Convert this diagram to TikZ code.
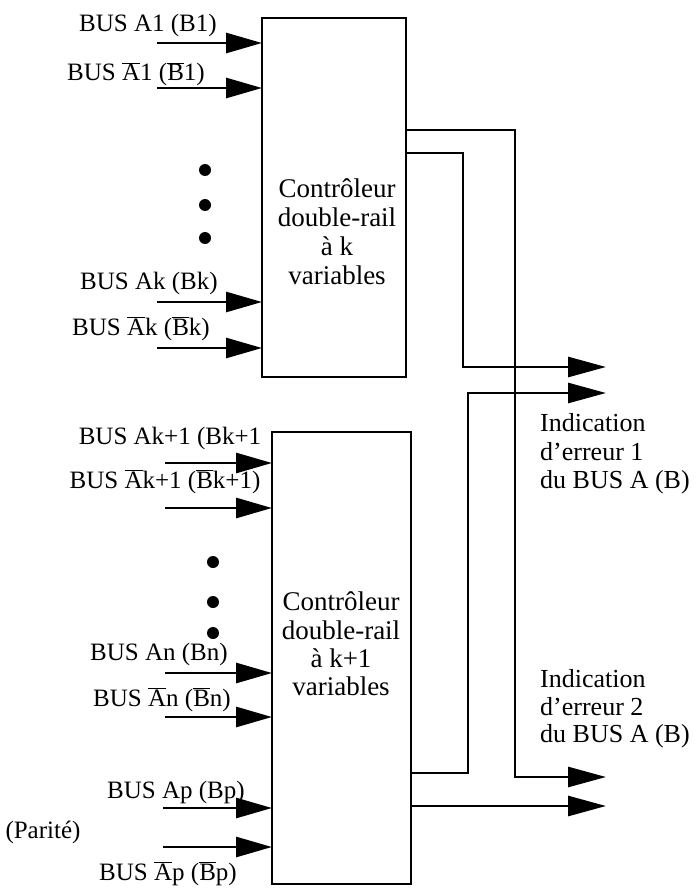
\documentclass[tikz,border=0pt]{standalone}
\usepackage{fontspec}
\setmainfont{Liberation Serif}
\usetikzlibrary{arrows.meta}
\newcommand{\ob}[1]{$\overline{\mbox{#1}}$}
\begin{document}
\begin{tikzpicture}[x=1pt,y=-1pt,
  box/.style={draw,line width=2.8pt,inner sep=0pt,outer sep=0pt,rectangle},
  inarr/.style={line width=2.8pt,-{Triangle[length=36pt,width=20pt]}},
  outarr/.style={line width=2.8pt,-{Triangle[length=38pt,width=20pt]}},
  lab/.style={anchor=base,inner sep=0pt,font=\fontsize{25}{29}\selectfont},
  boxlab/.style={anchor=base,inner sep=0pt,font=\fontsize{27}{29}\selectfont},
  labw/.style={anchor=base west,inner sep=0pt,font=\fontsize{26}{29}\selectfont},
  dot/.style={circle,fill=black,inner sep=0pt,minimum size=12pt}]
\useasboundingbox (0,0) rectangle (696,888);
% boxes
\node[box,minimum width=144pt,minimum height=359pt] (b1) at (334,197.5) {};
\node[box,minimum width=139pt,minimum height=452pt] (b2) at (341.5,658) {};
% box texts
\node[boxlab] (t1a) at (337,197) {Contrôleur};
\node[boxlab] (t1b) at (337,226) {double-rail};
\node[boxlab] (t1c) at (337,255) {à k};
\node[boxlab] (t1d) at (337,284) {variables};
\node[boxlab] (t2a) at (341,610) {Contrôleur};
\node[boxlab] (t2b) at (341,639) {double-rail};
\node[boxlab] (t2c) at (341,667) {à k+1};
\node[boxlab] (t2d) at (341,695) {variables};
% input free ends
\coordinate (i1) at (157,43);
\coordinate (i2) at (157,88);
\coordinate (i3) at (157,302);
\coordinate (i4) at (157,348);
\coordinate (j1) at (165,463);
\coordinate (j2) at (165,508);
\coordinate (j3) at (165,673);
\coordinate (j4) at (165,717);
\coordinate (j5) at (163,808);
\coordinate (j6) at (163,847);
\foreach \c in {i1,i2,i3,i4} \draw[inarr] (\c) -- (\c -| b1.west);
\foreach \c in {j1,j2,j3,j4,j5,j6} \draw[inarr] (\c) -- (\c -| b2.west);
% dots
\node[dot] (d1) at (205,170) {};
\node[dot] (d2) at (205,205) {};
\node[dot] (d3) at (205,238) {};
\node[dot] (d4) at (213,562) {};
\node[dot] (d5) at (213,602) {};
\node[dot] (d6) at (213,633) {};
% input labels
\node[lab] (l1) at (148,32) {BUS A1 (B1)};
\node[lab] (l2) at (136,81) {BUS \ob{A}1 (\ob{B}1)};
\node[lab] (l3) at (149,289) {BUS Ak (Bk)};
\node[lab] (l4) at (141,335) {BUS \ob{A}k (\ob{B}k)};
\node[lab] (l5) at (170,444) {BUS Ak+1 (Bk+1};
\node[lab] (l6) at (165,488) {BUS \ob{A}k+1 (\ob{B}k+1)};
\node[lab] (l7) at (159,660) {BUS An (Bn)};
\node[lab] (l8) at (162,706) {BUS \ob{A}n (\ob{B}n)};
\node[lab] (l9) at (176,798) {BUS Ap (Bp)};
\node[lab] (l10) at (43,838) {(Parité)};
\node[lab] (l11) at (168,880) {BUS \ob{A}p (\ob{B}p)};
% outputs
\coordinate (o1) at (606,367);
\coordinate (o2) at (606,393);
\coordinate (o3) at (606,777);
\coordinate (o4) at (606,806);
\coordinate (k1) at (515,130);
\coordinate (k2) at (463,153);
\coordinate (k3) at (468,773);
\draw[outarr] (b1.east |- k1) -- (k1) -- (k1 |- o3) -- (o3);
\draw[outarr] (b1.east |- k2) -- (k2) -- (k2 |- o1) -- (o1);
\draw[outarr] (b2.east |- k3) -- (k3) -- (k3 |- o2) -- (o2);
\draw[outarr] (b2.east |- o4) -- (o4);
% right labels
\node[labw] (r1) at (540,431) {Indication};
\node[labw] (r2) at (540,460) {d'erreur 1};
\node[labw] (r3) at (540,488) {du BUS A (B)};
\node[labw] (r4) at (540,687) {Indication};
\node[labw] (r5) at (540,715) {d'erreur 2};
\node[labw] (r6) at (540,742) {du BUS A (B)};
\end{tikzpicture}
\end{document}
